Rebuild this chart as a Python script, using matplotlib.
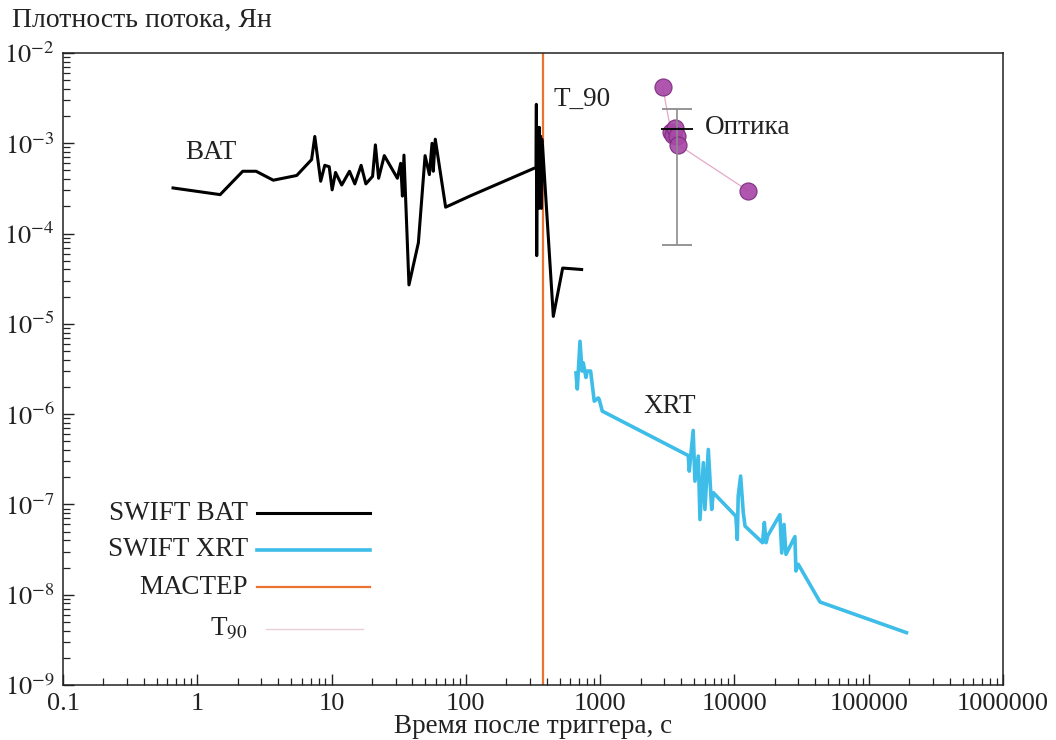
import matplotlib
matplotlib.use("Agg")
import matplotlib.pyplot as plt
from matplotlib.ticker import FixedLocator, FixedFormatter, LogLocator, NullFormatter

plt.rcParams['font.family'] = ['Liberation Serif', 'DejaVu Serif']
plt.rcParams['mathtext.fontset'] = 'stix'

# ---- data ----
bat_t = [0.66, 1.48, 2.18, 2.74, 3.68, 5.5, 7.1, 7.5, 8.3, 8.9, 9.6, 10.1, 10.7, 11.9,
         13.6, 14.9, 16.6, 18.0, 20.2, 21.2, 22.4, 24.7, 30.9, 32.7, 33.7, 34.6, 37.7,
         44.3, 49.7, 53.5, 56.0, 57.2, 59.2, 70.7, 107, 333, 335, 337, 340, 343, 346,
         350, 353, 357, 360, 365, 370, 448, 526, 728]
bat_f = [3.2e-4, 2.7e-4, 4.9e-4, 4.9e-4, 3.9e-4, 4.4e-4, 6.6e-4, 1.19e-3, 3.8e-4, 5.7e-4,
         5.5e-4, 3.05e-4, 4.75e-4, 3.45e-4, 4.9e-4, 3.55e-4, 5.7e-4, 3.55e-4, 4.3e-4,
         9.6e-4, 4.1e-4, 7.3e-4, 4.1e-4, 6.0e-4, 2.6e-4, 7.4e-4, 2.7e-5, 7.9e-5, 7.3e-4,
         4.5e-4, 1.0e-3, 4.9e-4, 1.11e-3, 1.96e-4, 2.6e-4, 5.4e-4, 2.7e-3, 5.7e-5, 1.5e-3,
         2.0e-4, 1.4e-3, 1.9e-4, 1.5e-3, 2.2e-4, 1.2e-3, 1.9e-4, 1.1e-3, 1.21e-5, 4.15e-5,
         4.0e-5]

xrt_t = [661, 676, 708, 733, 749, 784, 801, 849, 904, 968, 985, 1037, 4530, 4610, 4930,
         5080, 5380, 5540, 5870, 6030, 6390, 6770, 6960, 10250, 10500, 10670, 11120,
         11640, 12000, 16200, 16700, 17200, 17700, 21800, 22500, 23400, 24200, 28200,
         28700, 29900, 43400, 191000]
xrt_f = [2.86e-6, 1.9e-6, 6.4e-6, 3.0e-6, 3.7e-6, 2.55e-6, 3.0e-6, 3.0e-6, 1.39e-6,
         1.51e-6, 1.45e-6, 1.08e-6, 3.48e-7, 2.34e-7, 6.6e-7, 1.81e-7, 3.43e-7, 6.8e-8,
         2.9e-7, 8.8e-8, 4.06e-7, 8.8e-8, 1.35e-7, 7.4e-8, 4.1e-8, 1.24e-7, 2.06e-7,
         8.1e-8, 5.75e-8, 3.77e-8, 6.3e-8, 3.77e-8, 4.5e-8, 7.7e-8, 2.9e-8, 6.0e-8,
         2.8e-8, 4.4e-8, 1.83e-8, 2.17e-8, 8.3e-9, 3.8e-9]

opt_t = [2920, 3370, 3510, 3600, 3750, 3820, 12680]
opt_f = [4.25e-3, 1.35e-3, 1.24e-3, 1.47e-3, 1.19e-3, 9.6e-4, 2.97e-4]

err_t = [3750]
err_f = [1.44e-3]
err_lo = [1.44e-3 - 7.5e-5]
err_hi = [2.4e-3 - 1.44e-3]

master_t = 375

x_ticks = [0.1, 1, 10, 100, 1000, 10000, 100000, 1000000]
x_labels = ['0.1', '1', '10', '100', '1000', '10000', '100000', '1000000']
y_ticks = [1e-9, 1e-8, 1e-7, 1e-6, 1e-5, 1e-4, 1e-3, 1e-2]
y_labels = [r'$10^{-9}$', r'$10^{-8}$', r'$10^{-7}$', r'$10^{-6}$', r'$10^{-5}$',
            r'$10^{-4}$', r'$10^{-3}$', r'$10^{-2}$']

# ---- colours ----
c_bat = 'black'
c_xrt = '#3DBDE8'
c_mas = '#EA7330'
c_t90 = '#EBCFD8'
c_opt = '#A848A8'
c_txt = '#222222'

fig = plt.figure(figsize=(10.56, 7.40), dpi=100)
ax = fig.add_axes([63/1056, 1 - 685/740, (1003 - 63)/1056, (685 - 53)/740])
ax.set_xscale('log')
ax.set_yscale('log')
ax.set_xlim(0.1, 1e6)
ax.set_ylim(1e-9, 1e-2)

ax.plot(bat_t, bat_f, color=c_bat, lw=2.2, zorder=3)
ax.plot(xrt_t, xrt_f, color=c_xrt, lw=2.6, zorder=3)
ax.axvline(master_t, color=c_mas, lw=1.6, zorder=2)
ax.plot(opt_t, opt_f, color='#E6A8C8', lw=0.9, zorder=2)
ax.plot(opt_t, opt_f, ls='none', marker='o', ms=12.3, mfc=c_opt, mec='#7A2A7A',
        mew=0.8, alpha=0.92, zorder=3)
ax.errorbar(err_t, err_f, yerr=[err_lo, err_hi], fmt='_', color='#8C8C8C', ecolor='#8C8C8C',
            mfc='black', mec='black', ms=23, mew=1.3, elinewidth=1.2, capsize=11,
            capthick=1.2, zorder=4)

ax.text(1.26, 8.0e-4, 'BAT', fontsize=19.5, ha='center', va='center', color=c_txt)
ax.text(3310, 1.21e-6, 'XRT', fontsize=19.5, ha='center', va='center', color=c_txt)
ax.text(6030, 1.48e-3, 'Оптика', fontsize=19.5, ha='left', va='center', color=c_txt)
ax.text(446, 3.1e-3, 'T_90', fontsize=19.5, ha='left', va='center', color=c_txt)

# legend (manual, right-aligned labels)
leg = [('SWIFT BAT', c_bat, 2.2, 513), ('SWIFT XRT', c_xrt, 2.6, 550),
       ('МАСТЕР', c_mas, 1.6, 587), (r'T$_{90}$', c_t90, 1.0, 629)]
for lab, col, lw, py in leg:
    yf = 1 - (py - 53) / (685 - 53)
    x0 = (257 - 63) / 940
    x1 = (370 - 63) / 940
    if lab.startswith('T'):
        x0 = (266 - 63) / 940
        x1 = (363 - 63) / 940
    ax.plot([x0, x1], [yf, yf], color=col, lw=lw, transform=ax.transAxes, clip_on=False)
    ax.text((248 - 63) / 940, yf, lab, transform=ax.transAxes, fontsize=19.5,
            ha='right', va='center', color=c_txt)

ax.xaxis.set_major_locator(FixedLocator(x_ticks))
ax.xaxis.set_major_formatter(FixedFormatter(x_labels))
ax.xaxis.set_minor_locator(LogLocator(base=10, subs=range(2, 10), numticks=20))
ax.xaxis.set_minor_formatter(NullFormatter())
ax.yaxis.set_major_locator(FixedLocator(y_ticks))
ax.yaxis.set_major_formatter(FixedFormatter(y_labels))
ax.yaxis.set_minor_locator(LogLocator(base=10, subs=range(2, 10), numticks=20))
ax.yaxis.set_minor_formatter(NullFormatter())
ax.tick_params(which='both', direction='in', top=False, right=False, labelsize=19,
               colors=c_txt)
ax.tick_params(which='major', length=8, width=1)
ax.tick_params(which='minor', length=5, width=0.9)
ax.tick_params(axis='y', pad=6)
ax.tick_params(axis='x', pad=6)
for s in ax.spines.values():
    s.set_linewidth(1.1)
    s.set_color(c_txt)

ax.set_xlabel('Время после триггера, с', fontsize=19.5, color=c_txt, labelpad=-1)
fig.text(12 / 1056, 1 - 20 / 740, 'Плотность потока, Ян', fontsize=20, ha='left',
         va='center', color=c_txt)

fig.savefig('out.png', dpi=100)
